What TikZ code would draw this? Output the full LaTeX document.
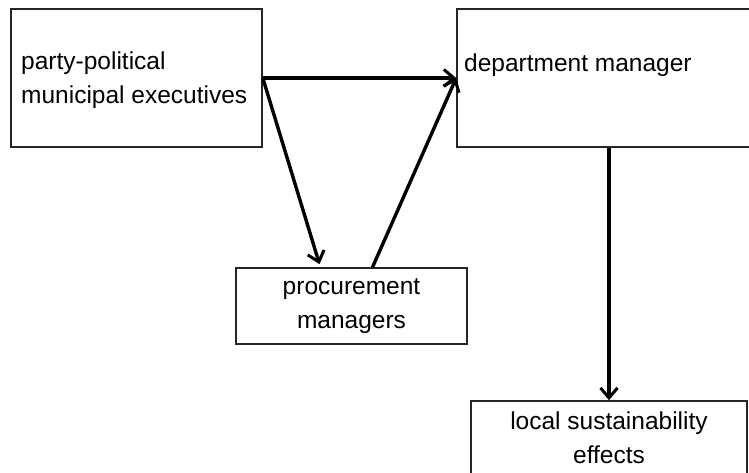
\documentclass[tikz,border=0pt]{standalone}
\usepackage{fontspec}
\setmainfont{Liberation Sans}
\usetikzlibrary{arrows.meta}
\begin{document}
\begin{tikzpicture}[x=1pt,y=-1pt,
  box/.style={draw=black!85,line width=1.6pt,minimum width=#1,inner sep=0pt},
  lbl/.style={inner sep=0pt,font=\fontsize{24.5}{34}\selectfont},
  arr/.style={line width=3.4pt,-{Straight Barb[length=10pt,width=17pt,line width=3pt]}}]
\useasboundingbox (0,0) rectangle (749,472);
\node[box=251pt,minimum height=138pt] (A) at (136.5,78) {};
\node[box=295pt,minimum height=138pt] (B) at (604.5,78) {};
\node[box=231pt,minimum height=76pt] (C) at (351.5,306) {};
\node[box=276pt,minimum height=75pt] (D) at (609,438.5) {};
\node[lbl,anchor=west,align=left] (ta) at (21,80) {party-political\\municipal executives};
\node[lbl,anchor=west] (tb) at (464,65) {department manager};
\node[lbl,align=center] (tc) at (C.center) {procurement\\managers};
\node[lbl,align=center] (td) at (609,438) {local sustainability\\effects};
\draw[arr] (A.east) -- (B.west);
\draw[arr] (A.east) -- ([xshift=-32pt,yshift=3pt]C.north);
\draw[arr] ([xshift=21pt]C.north) -- (B.west);
\draw[arr] (B.south -| D.north) -- (D.north);
\end{tikzpicture}
\end{document}
